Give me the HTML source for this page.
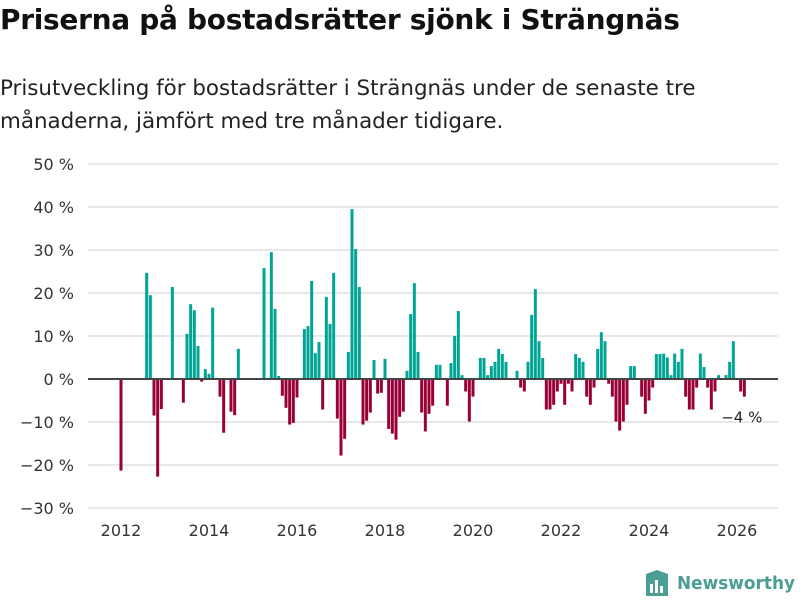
<!DOCTYPE html>
<html><head><meta charset="utf-8"><style>
body{margin:0;background:#fff;font-family:"Liberation Sans","DejaVu Sans",sans-serif;}
#wrap{position:relative;width:800px;height:600px;overflow:hidden;}
h1{position:absolute;left:0;top:3px;margin:0;font-size:28px;font-weight:bold;color:#111;font-family:"DejaVu Sans","Liberation Sans",sans-serif;letter-spacing:-0.3px;}
.sub{position:absolute;left:0;top:72px;margin:0;font-size:21.4px;line-height:33px;color:#222;font-family:"DejaVu Sans","Liberation Sans",sans-serif;}
</style></head><body>
<div id="wrap">
<h1>Priserna på bostadsrätter sjönk i Strängnäs</h1>
<p class="sub">Prisutveckling för bostadsrätter i Strängnäs under de senaste tre<br>månaderna, jämfört med tre månader tidigare.</p>
<svg id="chart" width="800" height="600" style="position:absolute;left:0;top:0"></svg>
</div>
<script>
const startYear = 2012;
const values = [-21.3,0,0,0,0,0,0,24.7,19.5,-8.5,-22.7,-7,0,0,21.4,0,0,-5.5,10.5,17.4,16,7.7,-0.6,2.3,1.2,16.6,0,-4.1,-12.5,0,-7.6,-8.4,7.0,0,0,0,0,0,0,25.8,0,29.5,16.3,0.7,-3.9,-6.7,-10.6,-10.2,-4.3,0,11.6,12.3,22.8,6.0,8.6,-7.1,19.1,12.8,24.7,-9.2,-17.8,-13.9,6.3,39.5,30.2,21.4,-10.6,-9.7,-7.8,4.4,-3.4,-3.2,4.7,-11.6,-12.7,-14.1,-8.8,-7.6,1.9,15.1,22.3,6.3,-7.8,-12.2,-8.1,-6.2,3.3,3.3,0,-6.2,3.7,10,15.8,0.9,-2.9,-9.9,-4.1,0,4.9,4.9,0.9,3.0,4.0,7.0,5.8,4.0,0,0,1.9,-2.0,-2.9,4.0,14.9,20.9,8.8,4.9,-7.1,-7.1,-6.0,-2.9,-1.1,-6.0,-1.1,-2.9,5.8,4.9,4.0,-4.1,-6.0,-2.0,7.0,10.9,8.8,-1.1,-4.1,-9.9,-12.0,-9.9,-6.0,3.0,3.0,0,-4.1,-8.1,-5.0,-2.0,5.8,5.8,5.9,5.0,0.9,5.9,4.0,7.0,-4.1,-7.1,-7.1,-2.0,5.9,2.8,-2.0,-7.1,-2.9,0.9,0,0.9,4.0,8.8,0,-2.9,-4.1];
const yTicks = [50,40,30,20,10,0,-10,-20,-30];
const xTicks = [2012,2014,2016,2018,2020,2022,2024,2026];
const lastLabel = "−4 %";

const NS="http://www.w3.org/2000/svg";
const svg=document.getElementById('chart');
const y=v=>379-v*4.3;
const xYear=yr=>121+(yr-startYear)*44;
const xMonth=i=>121+i*44/12;
function mk(t,a){const e=document.createElementNS(NS,t);for(const k in a)e.setAttribute(k,a[k]);svg.appendChild(e);return e;}
yTicks.forEach(t=>{
  const g=mk('line',{x1:88,x2:778,y1:y(t),y2:y(t),stroke:'#e0e0e0','stroke-width':1.5});
  
  
  const l=mk('text',{x:74,y:y(t)+6,'text-anchor':'end','font-size':16,fill:'#333','font-family':'DejaVu Sans, Liberation Sans, sans-serif'});
  l.textContent=(t<0?'−'+(-t):t)+' %';
  
  
});
xTicks.forEach(t=>{
  const l=mk('text',{x:xYear(t),y:536,'text-anchor':'middle','font-size':16,fill:'#333','font-family':'DejaVu Sans, Liberation Sans, sans-serif'});
  l.textContent=t;
  
  
});
values.forEach((v,i)=>{
  if(v===0)return;
  const b=mk('rect',{x:xMonth(i)-1.5,y:Math.min(y(v),379),width:3,height:Math.abs(y(v)-379),fill:v>0?'#00a595':'#990038'});
  
  
});
const z=mk('line',{x1:88,x2:778,y1:379,y2:379,stroke:'#444','stroke-width':2});


const li=values.length-1;
const lt=mk('text',{x:xMonth(li)+18,y:y(values[li])+26,'text-anchor':'end','font-size':15,fill:'#222','font-family':'DejaVu Sans, Liberation Sans, sans-serif',stroke:'#fff','stroke-width':3,'paint-order':'stroke'});
lt.textContent=lastLabel;


const lg=document.createElementNS(NS,'g');


svg.appendChild(lg);
lg.innerHTML='<path d="M646 574 L657 570 L668 574 L668 596 L646 596 Z" fill="#4a9e94"/><rect x="650" y="584" width="3" height="9" fill="#fff"/><rect x="655" y="580" width="3" height="13" fill="#fff"/><rect x="660" y="586" width="3" height="7" fill="#fff"/><text x="677" y="589" font-size="18" font-weight="bold" fill="#4a9e94" textLength="118" lengthAdjust="spacingAndGlyphs" font-family="DejaVu Sans, Liberation Sans, sans-serif">Newsworthy</text>';
</script>
</body></html>
